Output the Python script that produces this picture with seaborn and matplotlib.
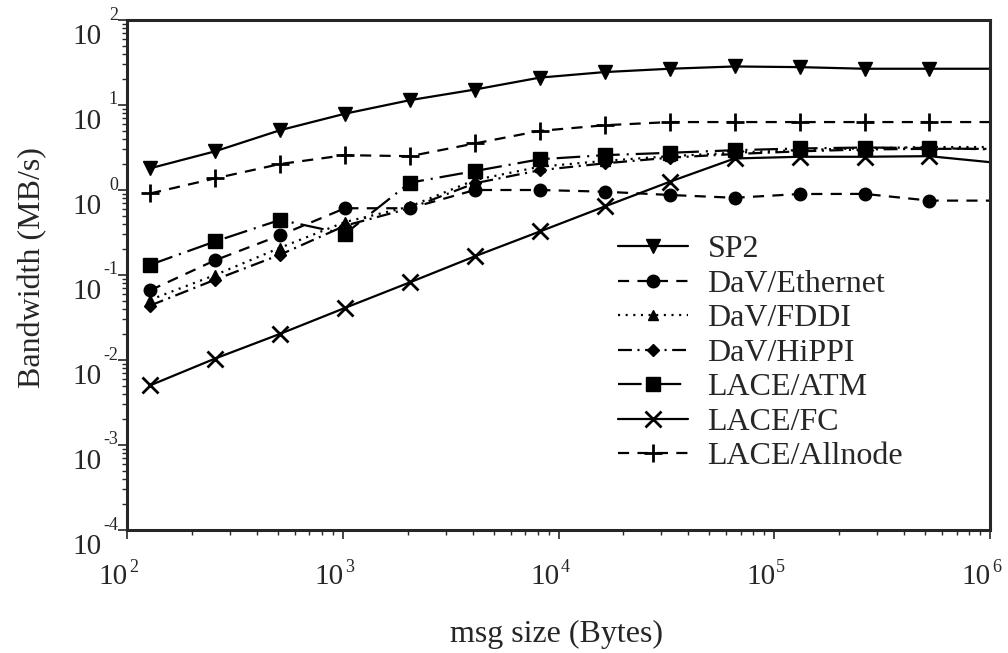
import numpy as np
import pandas as pd
import seaborn as sns
import matplotlib.pyplot as plt
import matplotlib.transforms as mtransforms
from matplotlib.ticker import LogLocator, NullFormatter

# --- DATA ---
msg_size = [128, 256, 512, 1024, 2048, 4096, 8192, 16384, 32768,
            65536, 131072, 262144, 524288, 1048576]

sp2 = [1.80, 2.85, 5.05, 7.9, 11.4, 15.2, 21.0, 24.4, 26.7, 28.4, 27.9, 26.7, 26.7, 26.7]
dav_ethernet = [0.066, 0.149, 0.293, 0.61, 0.61, 1.0, 1.0, 0.955, 0.874, 0.81, 0.897, 0.90, 0.75, 0.75]
dav_fddi = [0.051, 0.10, 0.209, 0.42, 0.64, 1.31, 1.88, 2.2, 2.5, 2.75, 2.95, 3.1, 3.2, 3.2]
dav_hippi = [0.0437, 0.088, 0.173, 0.38, 0.61, 1.2, 1.71, 2.06, 2.4, 2.65, 2.85, 3.0, 3.05, 3.05]
lace_atm = [0.132, 0.248, 0.445, 0.305, 1.22, 1.67, 2.3, 2.57, 2.74, 2.94, 3.08, 3.16, 3.12, 3.0]
lace_fc = [0.00503, 0.0104, 0.0203, 0.041, 0.082, 0.166, 0.325, 0.64, 1.25, 2.35, 2.46, 2.46, 2.5, 2.1]
lace_allnode = [0.91, 1.37, 2.02, 2.57, 2.5, 3.53, 4.96, 5.78, 6.3, 6.3, 6.3, 6.3, 6.3, 6.3]

series_names = ["SP2", "DaV/Ethernet", "DaV/FDDI", "DaV/HiPPI",
                "LACE/ATM", "LACE/FC", "LACE/Allnode"]
series_values = [sp2, dav_ethernet, dav_fddi, dav_hippi, lace_atm, lace_fc, lace_allnode]

x_exponents = [2, 3, 4, 5, 6]
y_exponents = [-4, -3, -2, -1, 0, 1, 2]

# --- STYLE ---
sns.set_style("ticks")
plt.rcParams["font.family"] = ["Liberation Serif", "DejaVu Serif"]
plt.rcParams["lines.scale_dashes"] = False

styles = {
    "SP2":          dict(marker="v", markersize=10, linestyle="-"),
    "DaV/Ethernet": dict(marker="o", markersize=9, linestyle=(0, (8, 6))),
    "DaV/FDDI":     dict(marker="^", markersize=7.5, linestyle=(0, (1.5, 4))),
    "DaV/HiPPI":    dict(marker="D", markersize=6.5, linestyle=(0, (10, 4, 1.5, 4))),
    "LACE/ATM":     dict(marker="s", markersize=10, linestyle=(0, (17, 5, 1.5, 5))),
    "LACE/FC":      dict(marker="x", markersize=11, linestyle="-", markeredgewidth=2),
    "LACE/Allnode": dict(marker="+", markersize=13, linestyle=(0, (8, 6)), markeredgewidth=2),
}

fig = plt.figure(figsize=(10.08, 6.53), dpi=100)
ax = fig.add_axes([127 / 1008, 1 - 530 / 653, (990 - 127) / 1008, (530 - 20) / 653])

# the last point lies just past 10^6: its line shows, its marker does not
shown = list(range(len(msg_size) - 1))
for name, vals in zip(series_names, series_values):
    df = pd.DataFrame({"msg": msg_size, "bw": vals})
    st = dict(styles[name])
    st.setdefault("markeredgewidth", 1)
    sns.lineplot(data=df, x="msg", y="bw", ax=ax, color="black", linewidth=1.6,
                 markeredgecolor="black", markerfacecolor="black", label=name,
                 errorbar=None, sort=False, markevery=shown, **st)

ax.set_xscale("log")
ax.set_yscale("log")
ax.set_xlim(1e2, 1e6)
ax.set_ylim(1e-4, 1e2)

for s in ax.spines.values():
    s.set_linewidth(2.2)
    s.set_visible(True)

ax.xaxis.set_major_locator(LogLocator(base=10, numticks=10))
ax.xaxis.set_minor_locator(LogLocator(base=10, subs=np.arange(2, 10), numticks=20))
ax.yaxis.set_major_locator(LogLocator(base=10, numticks=10))
ax.yaxis.set_minor_locator(LogLocator(base=10, subs=np.arange(2, 10), numticks=20))
ax.xaxis.set_major_formatter(NullFormatter())
ax.xaxis.set_minor_formatter(NullFormatter())
ax.yaxis.set_major_formatter(NullFormatter())
ax.yaxis.set_minor_formatter(NullFormatter())
ax.tick_params(which="major", direction="out", length=6.5, width=1.2, top=False, right=False)
ax.tick_params(which="minor", direction="out", length=3.5, width=1.0, top=False, right=False)

# --- TICK LABELS (base and exponent placed like the original) ---
ytrans = mtransforms.blended_transform_factory(ax.transAxes, ax.transData)
xtrans = mtransforms.blended_transform_factory(ax.transData, ax.transAxes)
for e in y_exponents:
    ax.text(0, 10.0 ** e, "10", fontsize=21, ha="right", va="center",
            transform=mtransforms.offset_copy(ytrans, fig=fig, x=-25, y=-17, units="dots"))
    ax.text(0, 10.0 ** e, str(e), fontsize=13, ha="right", va="center",
            transform=mtransforms.offset_copy(ytrans, fig=fig, x=-9, y=5, units="dots"))
for e in x_exponents:
    ax.text(10.0 ** e, 0, "10", fontsize=21, ha="right", va="center",
            transform=mtransforms.offset_copy(xtrans, fig=fig, x=1, y=-47, units="dots"))
    ax.text(10.0 ** e, 0, str(e), fontsize=13, ha="left", va="center",
            transform=mtransforms.offset_copy(xtrans, fig=fig, x=2, y=-38, units="dots"))

ax.set_xlabel("")
ax.set_ylabel("")
fig.text(557 / 1008, 1 - 634 / 653, "msg size (Bytes)", fontsize=23, ha="center", va="center")
fig.text(33 / 1008, 1 - 268 / 653, "Bandwidth (MB/s)", fontsize=23, ha="center",
         va="center", rotation=90)

# --- LEGEND ---
ax.legend(loc="upper left", bbox_to_anchor=(618 / 1008, 1 - 235 / 653),
          bbox_transform=fig.transFigure, frameon=False, fontsize=23,
          handlelength=2.2, handletextpad=0.6, labelspacing=0.16,
          borderpad=0, borderaxespad=0, numpoints=1)

fig.savefig("out.png", dpi=100)
